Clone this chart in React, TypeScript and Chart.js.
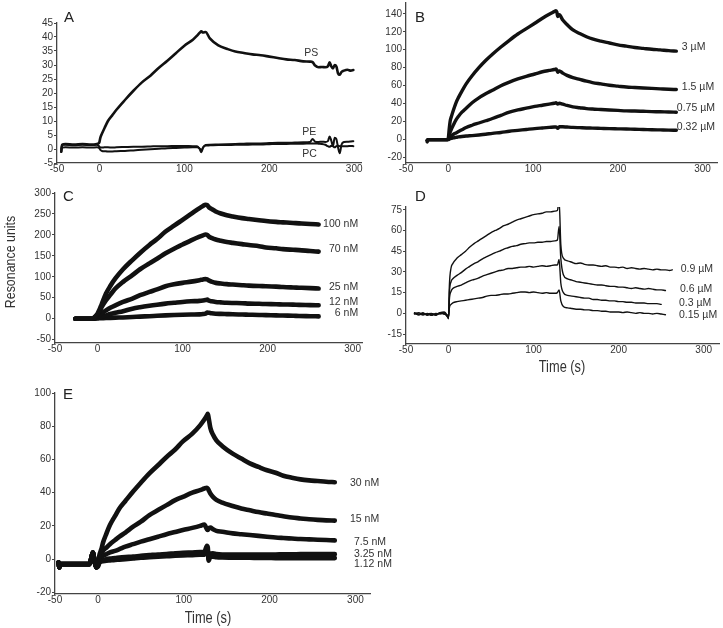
import React, { useEffect, useRef } from "react";
import { Chart, registerables } from "chart.js";
Chart.register(...registerables);

// ---------- Panel A ----------
const aTime = [-45,-44,-40,-30,-20,-10,-3,-1,0,1,3,6,10,15,20,30,40,50,60,70,80,90,100,110,115,118,120,122,125,130,140,150,160,170,180,190,200,210,220,230,240,248,251,254,258,262,266,269,271,273,275,277,279,281,283,285,288,292,296,299];
const aPS = [-1,1.5,1.8,1.6,1.8,1.6,1.8,2,2.5,4,5.5,7.5,10,12,14,17.5,20.8,23.8,26.2,29,31.5,34.2,36.9,39,40.5,41.5,42,41.6,41.8,39.5,37,35.8,34.8,34.3,33.8,33.5,33,32.5,32,31.8,31.3,31.2,31,29.8,29.2,29.3,29.2,29.5,31,29.5,28.8,30,29.5,27,26.5,27.5,28,28.3,28,28.2];
const aPE = [0,1.5,1.5,1.3,1.5,1.4,1.5,1.2,0.8,0.6,0.5,0.6,0.6,0.5,0.6,0.7,0.8,0.8,0.9,1,1,1.1,1.1,1,1,0,-1.2,0.5,1.4,1.5,1.6,1.7,1.8,1.9,2,2,2.1,2.2,2.2,2.3,2.4,2.5,3.6,2.6,2.5,2.6,2.5,2.8,4.5,3,1,4,3.5,0.5,-1.5,1.5,2.5,2.6,2.7,2.8];
const aPC = [-1,0.5,0.6,0.5,0.6,0.5,0.6,0.5,0.2,-0.3,-0.7,-0.8,-0.9,-0.9,-0.8,-0.7,-0.5,-0.3,-0.1,0.1,0.3,0.4,0.5,0.6,0.6,0.2,-0.5,0.6,1.2,1.3,1.4,1.4,1.5,1.5,1.6,1.6,1.7,1.8,1.8,1.9,1.9,2,2,2,1.9,1.8,1.5,1,0.8,1.2,1,0.6,1,1.2,1,1,1,1,1.1,1];
const aXTicks = [-50, 0, 100, 200, 300];
const aYTicks = [-5, 0, 5, 10, 15, 20, 25, 30, 35, 40, 45];

// ---------- Panel B ----------
const bTime = [-25,-24,-20,-10,-5,-1,0,1,2,4,6,9,12,16,21,28,36,44,52,62,72,82,92,102,111,119,125,127,128,129,131,135,140,147,155,163,170,180,190,200,210,220,230,240,250,260,269];
const b3uM = [-2.5,0,0,0,0,0,2,12,20,27,33,41,47,54,62,71,80,88,95,103,110.5,117.5,123.5,129.5,135,139.5,142.5,143.5,142,137,139,133,128,122,118,114.5,112,109.5,107.5,105.5,104,102.5,101.5,100.5,99.8,99,98.5];
const b15uM = [-1,0,0,0,0,0,1,4,8,12.5,16.5,22,26,30.5,35,41,46.5,51,55,60,64,67.5,70.5,73,75.5,77,78,78.5,77.5,75,76.5,74,71.5,69,67,65,63.5,62,60.5,59.5,58.5,58,57.5,57,56.5,56,55.7];
const b075uM = [-1,0,0,0,0,0,0.5,1.5,3,4.5,6,7.5,9,11,13.5,16,18.5,21,23.5,27,30.5,33,35,37,38.3,39.5,40.5,41,40.5,39.5,40.5,39.5,38,36.5,35.5,34.5,34,33.5,33,32.5,32,31.8,31.5,31.2,31,30.7,30.5];
const b032uM = [-1,0,0,0,0,0,0,0.5,1,1.5,2,2.5,3,3.5,4,4.5,5.2,6,7,8,9.3,10.3,11.3,12.3,13,13.6,14,14.2,13.5,12.5,14.5,14.3,14,13.6,13.3,13,12.8,12.5,12.2,12,11.8,11.5,11.3,11,10.8,10.6,10.4];
const bXTicks = [-50, 0, 100, 200, 300];
const bYTicks = [-20, 0, 20, 40, 60, 80, 100, 120, 140];

// ---------- Panel C ----------
const cTime = [-26,-20,-10,-6,-3,0,2,5,10,15,21,30,41,50,61,70,80,90,100,110,120,124,127,129,131,134,139,145,152,159,170,178,190,198,210,218,230,237,250,260];
const c100nM = [0,0,0,0,5,12,20,35,60,78,96,118,140,157,176,190,208,222,236,250,264,269,272,271,266,262,256,251,247,244,240,238,235,233,231,230,228.5,227.6,226,225];
const c70nM = [0,0,0,0,3,9,16,28,44,57,72,88,104,118,132,143,156,167,177,187,196,199,201,200,196,193,189,186,183,181,178,175.7,173,170,168,166,164.5,163.7,161.5,160];
const c25nM = [0,0,0,0,2,5,8,13,20,26,32,40,48,56,64,70,77.5,82,85.5,88.5,92,93.5,94.5,94,91,88.5,85.5,84,82.5,81.5,80,79,78,77.5,76.5,75.5,74.5,74,73,72];
const c12nM = [0,0,0,0,1,2,3,5,8,11,14,18,24,27.5,31,33.5,36,38,40,41.5,42.5,43.5,44.5,45.5,43,41.5,40,39,38,37.5,37,36,35.5,35,34.5,34,33.5,33,32.5,32];
const c6nM = [0,0,0,0,0,0.5,1,1.2,1.5,2,2.5,3,4,5,6,7,8,8.8,9.5,10,10.4,11,12,14.5,14,13,12,11.5,11,10.5,10,9.6,9,8.5,8,7.5,7,6.5,6,5.6];
const cXTicks = [-50, 0, 100, 200, 300];
const cYTicks = [-50, 0, 50, 100, 150, 200, 250, 300];

// ---------- Panel D ----------
const dTime = [-40,-35,-30,-25,-20,-15,-10,-5,-2,0,1,3,5,10,15,20,25,30,35,40,45,50,55,60,65,70,75,80,85,90,95,100,105,110,115,120,125,128,130,132,135,140,145,150,155,160,165,170,175,180,185,190,195,200,205,210,215,220,225,230,235,240,245,250,255,260,263];
const d09uM = [0,-1,0.5,-1.5,-0.5,-1,0.5,1,-1,-4,20,33,36,40,42.5,45,48,50.5,52.5,54.5,56.5,58.5,60,61.5,63.5,64.5,66,67.5,68.5,69.5,70.5,71.5,72,72.5,73.5,73.5,74,74.5,82,50,40,38,37,36,36.5,35.5,35,35,34.5,34,34.5,33.5,33.5,33,33.5,32.5,33,32.5,32,32.5,32,31.5,32,31.5,31.5,31,31.5];
const d06uM = [0.5,-0.5,-1,0,-1.5,0,-0.5,0.5,-2,-3,15,23,25,27.5,29.5,32,34,36,37.5,39.5,41,42.5,44,45,46.5,47.5,48.5,49,50,50.5,51,51,51.5,51.5,52,52,52.5,53,63,40,28,25,24,23,22.5,22,21.5,21,20.5,20.5,20,19.5,19.5,19,19,18.5,18,18.5,18,17.5,18,17.5,17,17,16.5];
const d03uM = [-0.5,0.5,-1,-0.5,0,-1,0,-0.5,-1.5,-3.5,10,16,18,19.5,20.5,22,23.5,24.5,25.5,27,28,29,30,31,31.5,32.5,32.5,33,33.5,33.5,34,33.5,34,34.5,34,34.5,35,35,39,22,15,13,12.5,12,11.5,11,11,10,10,9.5,9.5,9,9,8.5,8.5,8,8,7.5,7.5,7.5,7,7,7,6.5];
const d015uM = [0,-1,0,-1,-0.5,-1.5,0.5,-0.5,-1,-2,4,6.5,7.5,8.5,9,9.5,10,10.5,11,11.5,12.5,13,13,13.5,14,14,14.5,15,15.5,15.5,15,15.5,15,14.5,15,14.5,14.5,15,17,9,5,4,3.5,3,3,2.5,2.5,2,2,1.5,1.5,1,1,1,0.5,1,0.5,0,0.5,0,0,-0.5,0,-0.5,-1];
const dXTicks = [-50, 0, 100, 200, 300];
const dYTicks = [-15, 0, 15, 30, 45, 60, 75];

// ---------- Panel E ----------
const eTime = [-46,-45,-44,-40,-30,-20,-10,-8,-6,-4,-2,0,2,4,6,10,14,20,25,32,41,50,60,70,80,90,99,110,119,124,127,128,129,131,134,138,145,157,167,177,187,197,207,216,226,236,246,256,266,276];
const e30nM = [-2,-5,-3,-3,-3,-3,-3,0,4,-1,-5,-2,3,6,10,15.5,20.5,26,30.5,35,40.7,46,51.6,56.5,61.5,66,70.9,75.5,80.5,84,86.5,87.5,85,79,75,71.5,68,63.5,60.5,57.6,55.5,53.5,52,50.2,49,48,47.4,47,46.6,46.3];
const e15nM = [-2,-5,-3,-3,-3,-3,-3,0,4,-1,-5,-1.5,1,2.5,5,7,9,11.5,13.5,16,19.5,22.5,26.5,29.5,32.5,35.5,37.5,40,41.5,42.5,43,42.5,41.5,39.5,37.5,35.7,34,32,30.5,29.4,28.3,27.4,26.5,25.8,25,24.5,24,23.6,23.3,23.2];
const e75nM = [-2,-5,-3,-3,-3,-3,-3,0,4,-1,-5,-2,0,1,2,3,4,5,6,7.5,9,10.5,12,13.5,15,16.3,17.5,18.8,20,20.8,18,17.5,18.5,19,18,17,16.5,15.5,15,14.5,14,13.5,13,12.7,12.4,12.1,11.9,11.7,11.5,11.3];
const e325nM = [-2,-5,-3,-3,-3,-3,-3,0,4,-1,-5,-4,-1.5,-1,-0.5,0,0.3,0.6,0.9,1.2,1.5,2,2.4,2.8,3.1,3.5,3.8,4,4.2,4.3,8,7,0,3,3.5,3,2.8,2.8,2.7,2.7,2.7,2.8,2.8,2.9,2.9,3,3,3,3,3];
const e112nM = [-2,-5,-3,-3,-3,-3,-3,0,4,-1,-5,-4.5,-2,-1.5,-1.3,-1,-0.8,-0.5,-0.3,0,0.4,0.8,1.1,1.4,1.7,2,2.2,2.4,2.6,2.7,6,5,-1,1.5,1.5,1.2,1,0.9,0.8,0.8,0.7,0.7,0.6,0.6,0.6,0.6,0.6,0.6,0.6,0.6];
const eXTicks = [-50, 0, 100, 200, 300];
const eYTicks = [-20, 0, 20, 40, 60, 80, 100];

// ---------- Styling / layout ----------
const FONT = "'Liberation Sans', Arial, Helvetica, sans-serif";
const TEXT = "#333";
const LINE = "#111";
const AXIS = "#444";
const Y_W = 36;
const PAD = { top: 12, right: 30, bottom: 4, left: 0 };
const X_H = 16;

type SeriesDef = { label: string; values: number[]; width: number; dx: number; dy: number; align?: "left" | "right" };
type PanelDef = {
  id: string;
  time: number[];
  series: SeriesDef[];
  area: { l: number; t: number; r: number; b: number };
  x: [number, number];
  y: [number, number];
  xTicks: number[];
  yTicks: number[];
};

const panels: PanelDef[] = [
  {
    id: "A", time: aTime,
    series: [
      { label: "PS", values: aPS, width: 2.6, dx: -49, dy: -17 },
      { label: "PE", values: aPE, width: 2, dx: -51, dy: -9.5 },
      { label: "PC", values: aPC, width: 2, dx: -51, dy: 8 },
    ],
    area: { l: 57, t: 23, r: 361, b: 163 }, x: [-50, 308], y: [-5, 45], xTicks: aXTicks, yTicks: aYTicks,
  },
  {
    id: "B", time: bTime,
    series: [
      { label: "3 µM", values: b3uM, width: 3.4, dx: 5.5, dy: -4.4 },
      { label: "1.5 µM", values: b15uM, width: 3.4, dx: 5.5, dy: -2.3 },
      { label: "0.75 µM", values: b075uM, width: 3.4, dx: 0.5, dy: -4 },
      { label: "0.32 µM", values: b032uM, width: 3.4, dx: 0.5, dy: -3 },
    ],
    area: { l: 406, t: 3, r: 717, b: 163 }, x: [-50, 317], y: [-26, 152], xTicks: bXTicks, yTicks: bYTicks,
  },
  {
    id: "C", time: cTime,
    series: [
      { label: "100 nM", values: c100nM, width: 4.6, dx: 39.5, dy: 0, align: "right" },
      { label: "70 nM", values: c70nM, width: 4.6, dx: 39.5, dy: -2.7, align: "right" },
      { label: "25 nM", values: c25nM, width: 4.6, dx: 39.5, dy: -1.5, align: "right" },
      { label: "12 nM", values: c12nM, width: 4.6, dx: 39.5, dy: -3.6, align: "right" },
      { label: "6 nM", values: c6nM, width: 4.6, dx: 39.5, dy: -3.4, align: "right" },
    ],
    area: { l: 55, t: 193, r: 362, b: 343 }, x: [-50, 311], y: [-58, 300], xTicks: cXTicks, yTicks: cYTicks,
  },
  {
    id: "D", time: dTime,
    series: [
      { label: "0.9 µM", values: d09uM, width: 1.4, dx: 8.5, dy: -1 },
      { label: "0.6 µM", values: d06uM, width: 1.4, dx: 14.6, dy: -1.3 },
      { label: "0.3 µM", values: d03uM, width: 1.4, dx: 17.8, dy: -1.7 },
      { label: "0.15 µM", values: d015uM, width: 1.4, dx: 13.6, dy: 0.3 },
    ],
    area: { l: 406, t: 207, r: 719, b: 344 }, x: [-50, 318], y: [-22.2, 77], xTicks: dXTicks, yTicks: dYTicks,
  },
  {
    id: "E", time: eTime,
    series: [
      { label: "30 nM", values: e30nM, width: 4.6, dx: 15.2, dy: 0.8 },
      { label: "15 nM", values: e15nM, width: 4.6, dx: 15.2, dy: -1.6 },
      { label: "7.5 nM", values: e75nM, width: 4.6, dx: 19.2, dy: 1.4 },
      { label: "3.25 nM", values: e325nM, width: 4.6, dx: 19.2, dy: 0 },
      { label: "1.12 nM", values: e112nM, width: 4.6, dx: 19.2, dy: 6 },
    ],
    area: { l: 55, t: 393, r: 370, b: 594 }, x: [-50, 317], y: [-21, 100], xTicks: eXTicks, yTicks: eYTicks,
  },
];

function Panel({ p }: { p: PanelDef }) {
  const ref = useRef<HTMLCanvasElement | null>(null);
  const { l, t, r, b } = p.area;
  const width = Math.round(r - l + Y_W + PAD.right);
  const height = Math.round(b - t + PAD.top + X_H + PAD.bottom);

  useEffect(() => {
    const canvas = ref.current;
    if (!canvas) return;
    const labelPlugin = {
      id: "seriesLabels" + p.id,
      afterDatasetsDraw(chart: any) {
        const ctx = chart.ctx;
        ctx.save();
        ctx.font = `10.5px ${FONT}`;
        ctx.fillStyle = TEXT;
        ctx.textBaseline = "middle";
        p.series.forEach((s, i) => {
          const meta = chart.getDatasetMeta(i);
          const last = meta.data[meta.data.length - 1];
          if (!last) return;
          ctx.textAlign = s.align || "left";
          ctx.fillText(s.label, last.x + s.dx, last.y + s.dy);
        });
        ctx.restore();
      },
    };
    const chart = new Chart(canvas, {
      type: "line",
      data: {
        datasets: p.series.map((s) => ({
          label: s.label,
          data: s.values.map((v, i) => ({ x: p.time[i], y: v })),
          borderColor: LINE,
          backgroundColor: LINE,
          borderWidth: s.width,
          pointRadius: 0,
          fill: false,
          cubicInterpolationMode: "monotone" as const,
          borderJoinStyle: "round" as const,
          borderCapStyle: "round" as const,
        })),
      },
      options: {
        responsive: false,
        maintainAspectRatio: false,
        animation: false,
        devicePixelRatio: 1,
        layout: { padding: PAD },
        plugins: { legend: { display: false }, tooltip: { enabled: false }, title: { display: false } },
        scales: {
          x: {
            type: "linear",
            min: p.x[0],
            max: p.x[1],
            afterBuildTicks: (axis: any) => { axis.ticks = p.xTicks.map((v) => ({ value: v })); },
            afterFit: (axis: any) => { axis.height = X_H; },
            grid: { display: false, drawTicks: false },
            border: { display: true, color: AXIS, width: 1.3 },
            ticks: { font: { family: FONT, size: 10 }, color: TEXT, padding: 0, maxRotation: 0, autoSkip: false },
          },
          y: {
            type: "linear",
            min: p.y[0],
            max: p.y[1],
            afterBuildTicks: (axis: any) => { axis.ticks = p.yTicks.map((v) => ({ value: v })); },
            afterFit: (axis: any) => { axis.width = Y_W; },
            grid: { display: true, drawOnChartArea: false, drawTicks: true, tickLength: 3, color: AXIS, lineWidth: 1 },
            border: { display: true, color: AXIS, width: 1.3 },
            ticks: { font: { family: FONT, size: 10 }, color: TEXT, padding: 1, autoSkip: false },
          },
        },
      },
      plugins: [labelPlugin],
    } as any);
    return () => chart.destroy();
  }, [p]);

  return (
    <canvas
      ref={ref}
      width={width}
      height={height}
      style={{ position: "absolute", left: l - Y_W, top: t - PAD.top, width, height }}
    />
  );
}

const letterStyle = (left: number, top: number): React.CSSProperties => ({
  position: "absolute", left, top, fontFamily: FONT, fontSize: 15, lineHeight: "15px", color: "#222",
});

export default function App() {
  return (
    <div style={{ position: "absolute", left: 0, top: 0, width: 723, height: 628, overflow: "hidden", background: "#fff" }}>
      {panels.map((p) => <Panel key={p.id} p={p} />)}
      <div style={letterStyle(64, 9)}>A</div>
      <div style={letterStyle(415, 8.7)}>B</div>
      <div style={letterStyle(63, 188)}>C</div>
      <div style={letterStyle(415, 188)}>D</div>
      <div style={letterStyle(63, 386)}>E</div>
      <div style={{ position: "absolute", left: 9.5, top: 262, transform: "translate(-50%,-50%) rotate(-90deg) scale(0.8,1)", fontFamily: FONT, fontSize: 15.5, lineHeight: 1, color: TEXT, whiteSpace: "nowrap" }}>Resonance units</div>
      <div style={{ position: "absolute", left: 562, top: 367, transform: "translate(-50%,-50%) scale(0.8,1)", fontFamily: FONT, fontSize: 16, lineHeight: 1, color: TEXT, whiteSpace: "nowrap" }}>Time (s)</div>
      <div style={{ position: "absolute", left: 208, top: 618, transform: "translate(-50%,-50%) scale(0.8,1)", fontFamily: FONT, fontSize: 16, lineHeight: 1, color: TEXT, whiteSpace: "nowrap" }}>Time (s)</div>
    </div>
  );
}
